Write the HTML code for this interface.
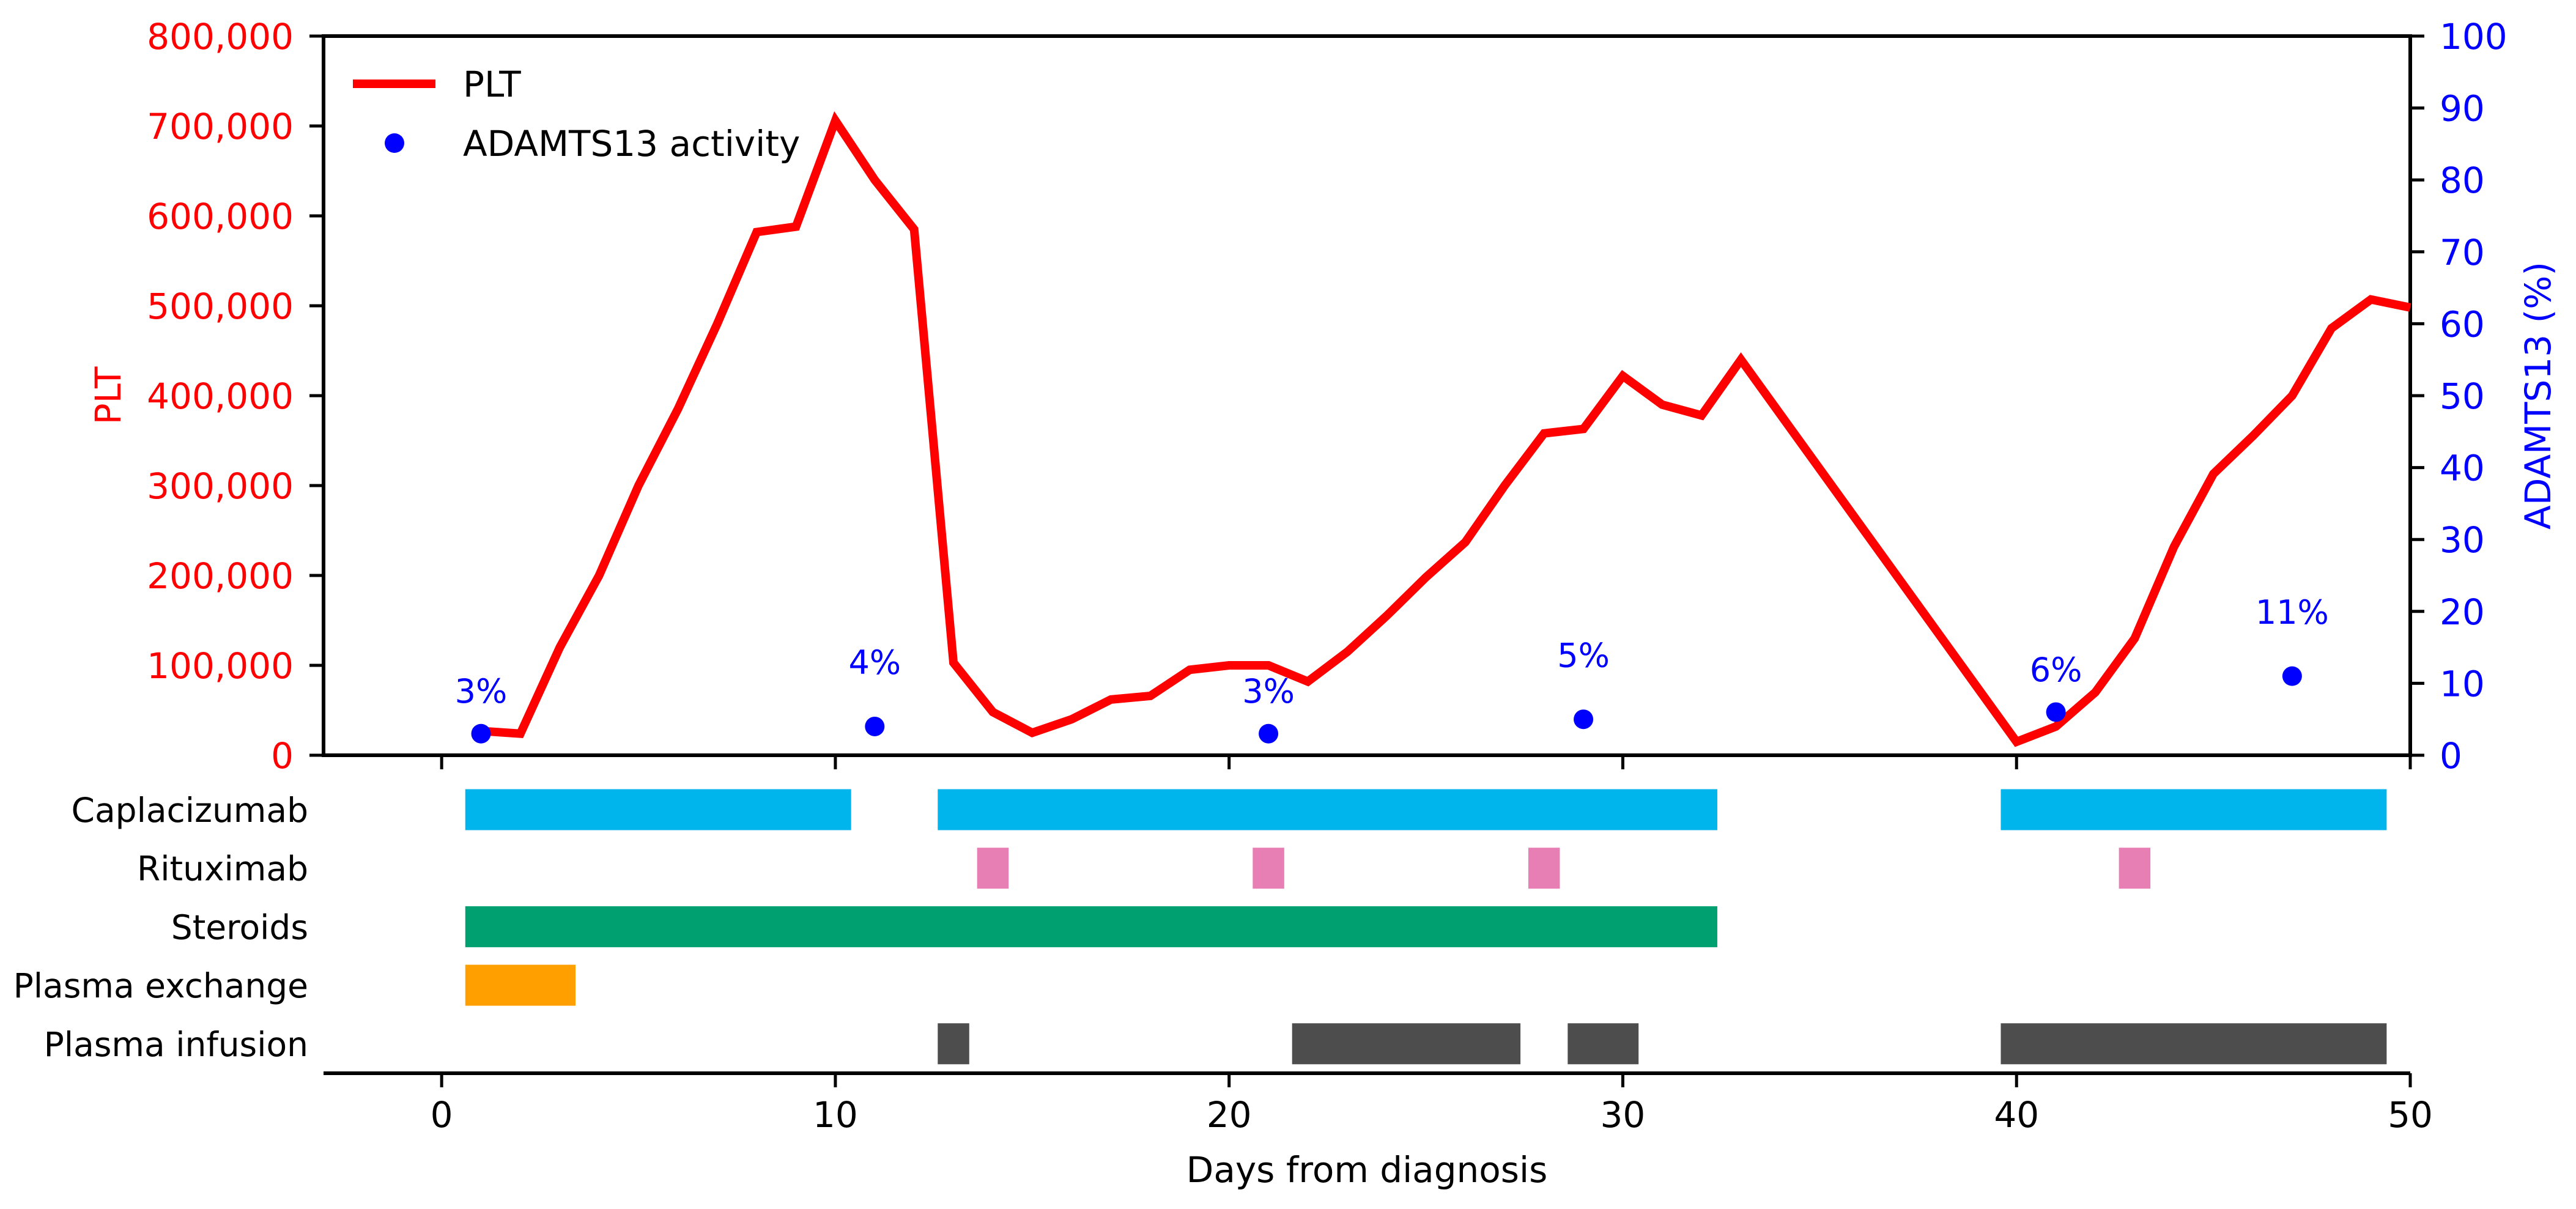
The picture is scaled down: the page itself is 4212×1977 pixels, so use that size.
<!DOCTYPE html>
<html><head><meta charset="utf-8"><style>
html,body{margin:0;padding:0;background:#fff;}
svg{display:block;font-family:"DejaVu Sans","Liberation Sans",sans-serif;}
</style></head><body>
<svg id="chart" width="4212" height="1977" viewBox="0 0 4212 1977" xmlns="http://www.w3.org/2000/svg">
<g id="plot"></g>
</svg>
<script>
const pltDays = [1,2,3,4,5,6,7,8,9,10,11,12,13,14,15,16,17,18,19,20,21,22,23,24,25,26,27,28,29,30,31,32,33,40,41,42,43,44,45,46,47,48,49,50];
const pltValues = [27000,24000,120000,200000,300000,385000,480000,582000,588000,706000,640000,585000,103000,48000,25000,40000,62000,66000,95000,100000,100000,82000,115000,155000,198000,237000,300000,358000,363000,422000,390000,378000,440000,15000,32000,70000,130000,232000,313000,355000,400000,475000,507000,498000];
const adamDays = [1,11,21,29,41,47];
const adamValues = [3,4,3,5,6,11];
const adamLabels = ["3%","4%","3%","5%","6%","11%"];
const adamLabelOffsets = [6,9,6,9,6,9];
const leftTicks = [0,100000,200000,300000,400000,500000,600000,700000,800000];
const leftTickLabels = ["0","100,000","200,000","300,000","400,000","500,000","600,000","700,000","800,000"];
const rightTicks = [0,10,20,30,40,50,60,70,80,90,100];
const xTicks = [0,10,20,30,40,50];
const treatments = ["Caplacizumab","Rituximab","Steroids","Plasma exchange","Plasma infusion"];
const treatmentColors = ["#00b5eb","#e87fb4","#00a070","#ffa000","#4d4d4d"];
const capStarts = [0.6,12.6,39.6], capEnds = [10.4,32.4,49.4];
const ritStarts = [13.6,20.6,27.6,42.6], ritEnds = [14.4,21.4,28.4,43.4];
const sterStarts = [0.6], sterEnds = [32.4];
const pexStarts = [0.6], pexEnds = [3.4];
const infStarts = [12.6,21.6,28.6,39.6], infEnds = [13.4,27.4,30.4,49.4];

const NS="http://www.w3.org/2000/svg";
const g=document.getElementById('plot');
const L=529,R=3941,T=59,B=1235,LB=1755;
const X=d=>L+(d-(-3))/(53)*(R-L);
const YL=v=>B-v/800000*(B-T);
const YR=v=>B-v/100*(B-T);
const rowY=i=>1324+i*95.7;
function mk(tag,attrs,txt){const e=document.createElementNS(NS,tag);for(const k in attrs)e.setAttribute(k,attrs[k]);if(txt!==undefined)e.textContent=txt;g.appendChild(e);return e;}
const FS=58;

let e;
e=mk('rect',{x:L,y:T,width:R-L,height:B-T,fill:'none',stroke:'#000','stroke-width':6});


e=mk('line',{x1:L,y1:LB,x2:R,y2:LB,stroke:'#000','stroke-width':6});



leftTicks.forEach((v,i)=>{
  const y=YL(v);
  let t=mk('line',{x1:L-23,y1:y,x2:L,y2:y,stroke:'#000','stroke-width':5});
  
  
  t=mk('text',{x:480,y:y+21,'text-anchor':'end','font-size':FS,fill:'#ff0000'},leftTickLabels[i]);
  
  
});
rightTicks.forEach(v=>{
  const y=YR(v);
  let t=mk('line',{x1:R,y1:y,x2:R+23,y2:y,stroke:'#000','stroke-width':5});
  
  
  t=mk('text',{x:3989,y:y+21,'text-anchor':'start','font-size':FS,fill:'#0000ff'},String(v));
  
  
});
xTicks.forEach(v=>{
  const x=X(v);
  let t=mk('line',{x1:x,y1:B,x2:x,y2:B+23,stroke:'#000','stroke-width':5});
  
  
  t=mk('line',{x1:x,y1:LB,x2:x,y2:LB+23,stroke:'#000','stroke-width':5});
  
  
  t=mk('text',{x:x,y:1843,'text-anchor':'middle','font-size':FS,fill:'#000'},String(v));
  
  
});

e=mk('text',{x:0,y:0,'text-anchor':'middle','font-size':FS,fill:'#ff0000',transform:'translate(197,647) rotate(-90)'},'PLT');


e=mk('text',{x:0,y:0,'text-anchor':'middle','font-size':FS,fill:'#0000ff',transform:'translate(4170,647) rotate(-90)'},'ADAMTS13 (%)');


e=mk('text',{x:2235,y:1933,'text-anchor':'middle','font-size':FS,fill:'#000'},'Days from diagnosis');



const pts=pltDays.map((d,i)=>X(d).toFixed(1)+','+YL(pltValues[i]).toFixed(1)).join(' ');
e=mk('polyline',{points:pts,fill:'none',stroke:'#ff0000','stroke-width':14,'stroke-linejoin':'miter'});



adamDays.forEach((d,i)=>{
  let c=mk('circle',{cx:X(d),cy:YR(adamValues[i]),r:16,fill:'#0000ff'});
  
  
  let t=mk('text',{x:X(d),y:YR(adamValues[i]+adamLabelOffsets[i])+20,'text-anchor':'middle','font-size':54,fill:'#0000ff'},adamLabels[i]);
  
  
});

e=mk('line',{x1:577,y1:137,x2:712,y2:137,stroke:'#ff0000','stroke-width':14});


e=mk('text',{x:757,y:158,'font-size':FS,fill:'#000'},'PLT');


e=mk('circle',{cx:645,cy:234,r:16,fill:'#0000ff'});


e=mk('text',{x:757,y:255,'font-size':FS,fill:'#000'},'ADAMTS13 activity');



const starts=[capStarts,ritStarts,sterStarts,pexStarts,infStarts];
const ends=[capEnds,ritEnds,sterEnds,pexEnds,infEnds];
treatments.forEach((name,i)=>{
  const cy=rowY(i);
  let t=mk('text',{x:504,y:cy+20,'text-anchor':'end','font-size':55,fill:'#000'},name);
  
  
  starts[i].forEach((s,j)=>{
    let r=mk('rect',{x:X(s),y:cy-33.5,width:X(ends[i][j])-X(s),height:67,fill:treatmentColors[i]});
    
    
  });
});
</script>
</body></html>
